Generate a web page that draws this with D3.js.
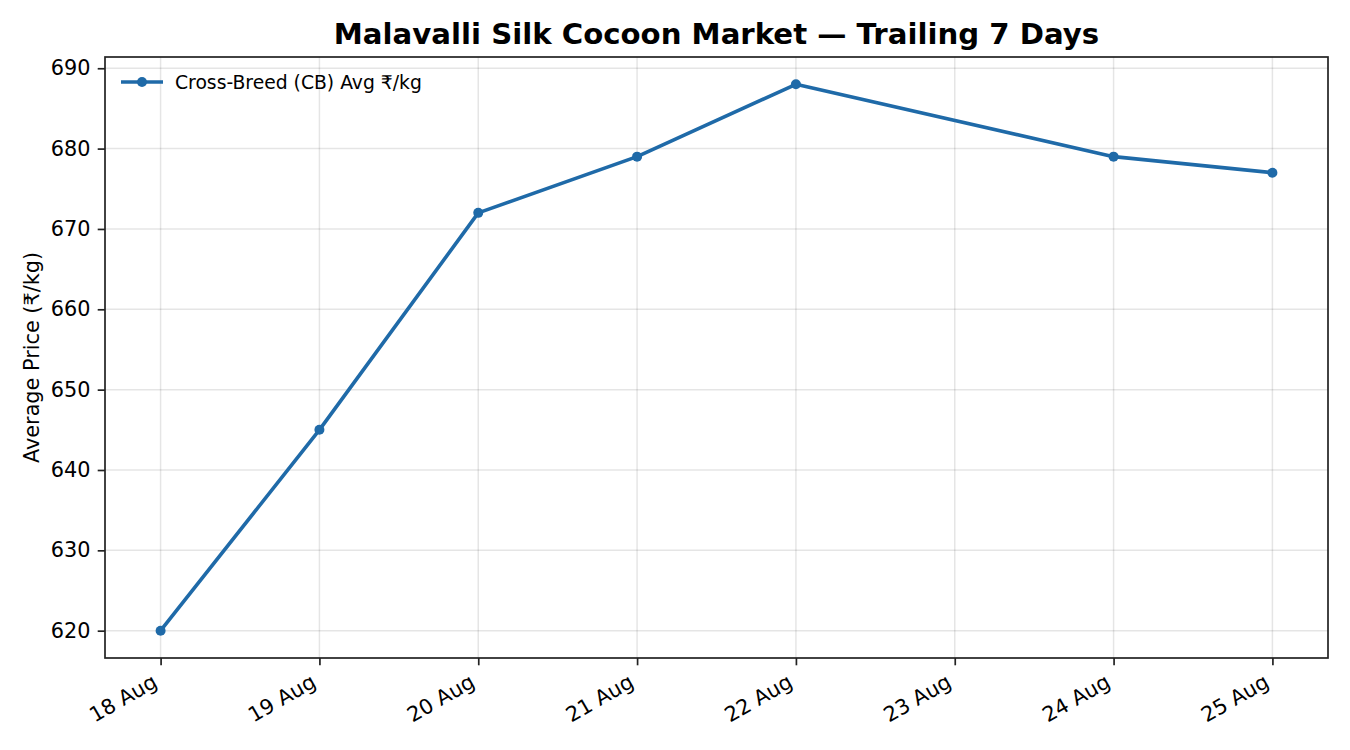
<!DOCTYPE html>
<html>
<head>
<meta charset="utf-8">
<script src="https://cdn.jsdelivr.net/npm/d3@7"></script>
<style>
  body { margin: 0; background: #fff; }
  text { font-family: "DejaVu Sans", sans-serif; }
</style>
</head>
<body>
<div id="chart"></div>
<script>
// Data
const dates = ['2025-08-18', '2025-08-19', '2025-08-20', '2025-08-21', '2025-08-22', '2025-08-24', '2025-08-25']
const prices = [620, 645, 672, 679, 688, 679, 677]
const yTicks = [620, 630, 640, 650, 660, 670, 680, 690]
const seriesName = 'Cross-Breed (CB) Avg ₹/kg'
const title = 'Malavalli Silk Cocoon Market — Trailing 7 Days'
const yLabel = 'Average Price (₹/kg)'

const parseDate = d3.timeParse('%Y-%m-%d')
const dataset = dates.map((d, i) => ({ date: parseDate(d), price: prices[i] }))

const xAccessor = (d) => d.date
const yAccessor = (d) => d.price

// Dimension
let dimension = {
    width: 1350,
    height: 750,
    margin: { top: 57, bottom: 92, left: 105, right: 22 }
}
dimension.ctrwidth = dimension.width - dimension.margin.left - dimension.margin.right
dimension.ctrheight = dimension.height - dimension.margin.top - dimension.margin.bottom

const color = '#1f6aa8'
const tickLen = 7.3

const svg = d3.select('#chart')
    .append('svg')
    .attr('width', dimension.width)
    .attr('height', dimension.height)

const ctr = svg.append('g')
    .attr('transform', `translate(${dimension.margin.left}, ${dimension.margin.top})`)

// Scales (5% padding like the original)
const xExt = d3.extent(dataset, xAccessor)
const xPad = (xExt[1] - xExt[0]) * 0.05
const xScale = d3.scaleTime()
    .domain([new Date(+xExt[0] - xPad), new Date(+xExt[1] + xPad)])
    .range([0, dimension.ctrwidth])

const yExt = d3.extent(dataset, yAccessor)
const yPad = (yExt[1] - yExt[0]) * 0.05
const yScale = d3.scaleLinear()
    .domain([yExt[0] - yPad, yExt[1] + yPad])
    .range([dimension.ctrheight, 0])

const xTicks = d3.timeDay.range(xExt[0], d3.timeDay.offset(xExt[1], 1))

// Grid
ctr.append('g')
    .selectAll('line')
    .data(xTicks)
    .join('line')
    .attr('x1', d => xScale(d)).attr('x2', d => xScale(d))
    .attr('y1', 0).attr('y2', dimension.ctrheight)
    .attr('stroke', '#000').attr('stroke-opacity', 0.1).attr('stroke-width', 1.5)

ctr.append('g')
    .selectAll('line')
    .data(yTicks)
    .join('line')
    .attr('x1', 0).attr('x2', dimension.ctrwidth)
    .attr('y1', d => yScale(d)).attr('y2', d => yScale(d))
    .attr('stroke', '#000').attr('stroke-opacity', 0.1).attr('stroke-width', 1.5)

// Axes
const xAxis = d3.axisBottom(xScale)
    .tickValues(xTicks)
    .tickFormat(d3.timeFormat('%d %b'))
    .tickSize(tickLen)

const xAxisGroup = ctr.append('g')
    .attr('transform', `translate(0, ${dimension.ctrheight})`)
    .call(xAxis)
xAxisGroup.select('.domain').remove()
xAxisGroup.selectAll('line').attr('stroke', '#222').attr('stroke-width', 1.7)
xAxisGroup.selectAll('text')
    .attr('font-size', 20.8)
    .attr('fill', '#000')
    .style('text-anchor', 'end')
    .attr('x', 0).attr('y', 0).attr('dy', 0)
    .attr('transform', 'translate(-2.5, 28) rotate(-30)')

const yAxis = d3.axisLeft(yScale)
    .tickValues(yTicks)
    .tickSize(tickLen)
    .tickPadding(7.3)

const yAxisGroup = ctr.append('g').call(yAxis)
yAxisGroup.select('.domain').remove()
yAxisGroup.selectAll('line').attr('stroke', '#222').attr('stroke-width', 1.7)
yAxisGroup.selectAll('text').attr('font-size', 20.8).attr('fill', '#000')

// Frame
ctr.append('rect')
    .attr('width', dimension.ctrwidth)
    .attr('height', dimension.ctrheight)
    .attr('fill', 'none')
    .attr('stroke', '#222')
    .attr('stroke-width', 1.7)

// Line
const line = d3.line()
    .x(d => xScale(xAccessor(d)))
    .y(d => yScale(yAccessor(d)))

ctr.append('path')
    .datum(dataset)
    .attr('d', line)
    .attr('fill', 'none')
    .attr('stroke', color)
    .attr('stroke-width', 3.6)
    .attr('stroke-linejoin', 'round')

ctr.selectAll('circle')
    .data(dataset)
    .join('circle')
    .attr('cx', d => xScale(xAccessor(d)))
    .attr('cy', d => yScale(yAccessor(d)))
    .attr('r', 5)
    .attr('fill', color)

// Title
svg.append('text')
    .attr('x', dimension.margin.left + dimension.ctrwidth / 2)
    .attr('y', 44)
    .attr('text-anchor', 'middle')
    .attr('font-size', 29.2)
    .attr('font-weight', 'bold')
    .text(title)

// Y label
svg.append('text')
    .attr('transform', `translate(39, ${dimension.margin.top + dimension.ctrheight / 2}) rotate(-90)`)
    .attr('text-anchor', 'middle')
    .attr('font-size', 20.8)
    .text(yLabel)

// Legend
const legend = ctr.append('g').attr('transform', 'translate(16, 25)')
legend.append('line')
    .attr('x1', 0).attr('x2', 42)
    .attr('stroke', color).attr('stroke-width', 3.6)
legend.append('circle')
    .attr('cx', 21).attr('r', 5).attr('fill', color)
legend.append('text')
    .attr('x', 54).attr('dy', '0.35em')
    .attr('font-size', 18.75)
    .text(seriesName)
</script>
</body>
</html>
